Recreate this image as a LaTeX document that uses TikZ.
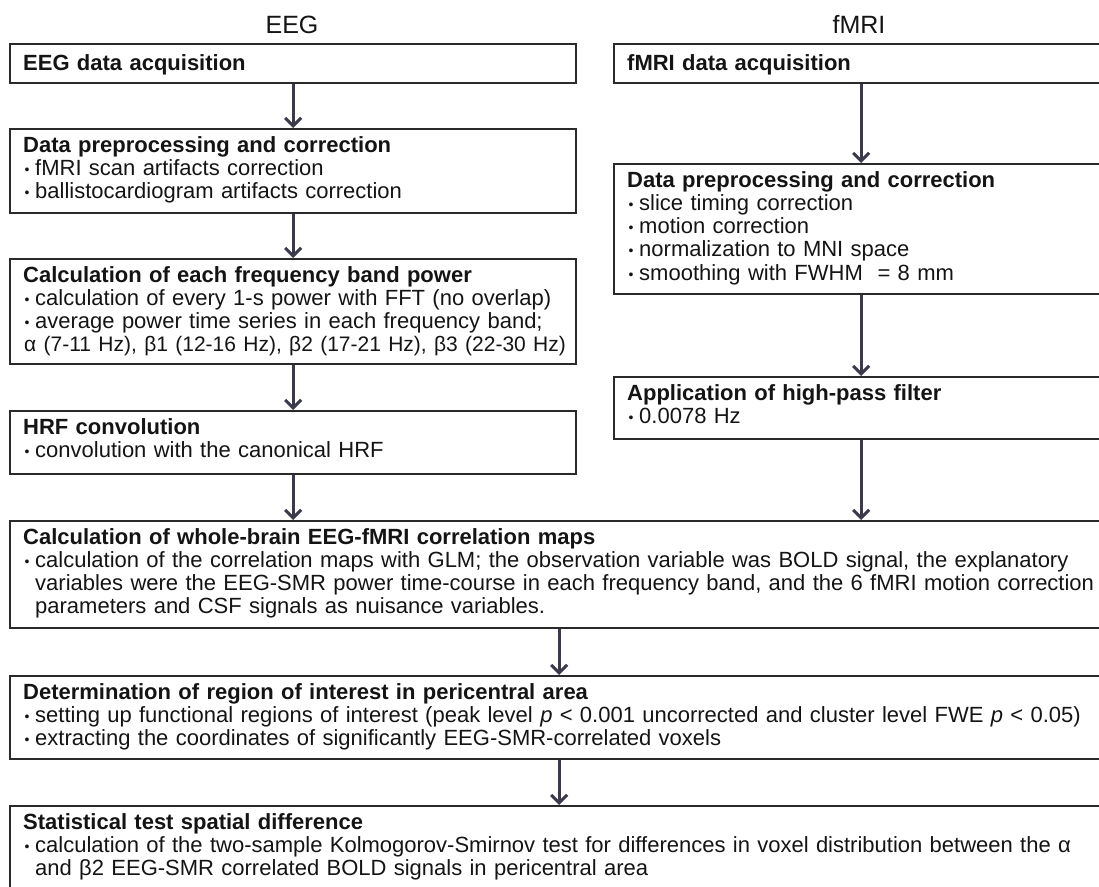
\documentclass[tikz,border=0pt]{standalone}
\usepackage{fontspec}
\setmainfont{Liberation Sans}
\usetikzlibrary{arrows.meta}
\definecolor{boxc}{HTML}{2A2A2A}
\definecolor{arrc}{HTML}{3A3A4C}
\definecolor{txtc}{HTML}{141414}
\newcommand\bu{\makebox[12pt][l]{\hspace{1.5pt}\raisebox{1.2pt}{\fontsize{14}{14}\selectfont •}}}
\newcommand\ind{\hspace*{12pt}}
\tikzset{
  box/.style={draw=boxc, line width=2.4pt, inner sep=0pt, rectangle, anchor=north west},
  txt/.style={anchor=base west, inner sep=0pt, text width=1090pt, align=left,
              font=\fontsize{22}{23.3}\selectfont, text=txtc},
  ttl/.style={anchor=base, inner sep=0pt, font=\fontsize{25}{25}\selectfont, text=txtc},
  arr/.style={draw=arrc, line width=3pt, -{Straight Barb[length=8pt,width=16pt]}}
}
\begin{document}
\begin{tikzpicture}[x=1pt,y=-1pt]
\useasboundingbox (0,0) rectangle (1099,886);
\clip (0,0) rectangle (1099,886);
% titles
\node[ttl] (teeg) at (292,33) {EEG};
\node[ttl] (tfmri) at (859,33) {fMRI};
% boxes
\node[box, minimum width=566pt, minimum height=39pt] (e1) at (9,43) {};
\node[box, minimum width=566pt, minimum height=84pt] (e2) at (9,128) {};
\node[box, minimum width=566pt, minimum height=105pt] (e3) at (9,258) {};
\node[box, minimum width=566pt, minimum height=63pt] (hrf) at (9,410) {};
\node[box, minimum width=494pt, minimum height=39pt] (f1) at (613,43) {};
\node[box, minimum width=494pt, minimum height=130pt] (f2) at (613,163) {};
\node[box, minimum width=494pt, minimum height=62pt] (f3) at (613,376) {};
\node[box, minimum width=1098pt, minimum height=107pt] (corr) at (9,520) {};
\node[box, minimum width=1098pt, minimum height=83pt] (roi) at (9,675) {};
\node[box, minimum width=1098pt, minimum height=84pt] (stat) at (9,805) {};
% texts
\node[txt] (e1t) at (23,70) {\textbf{EEG data acquisition}};
\node[txt] (e2t) at (23,152) {\textbf{Data preprocessing and correction}\\
\bu fMRI scan artifacts correction\\
\bu ballistocardiogram artifacts correction};
\node[txt] (e3t) at (23,282) {\textbf{Calculation of each frequency band power}\\
\bu calculation of every 1-s power with FFT (no overlap)\\
\bu average power time series in each frequency band;\\
{\fontsize{21}{23.3}\selectfont\hspace*{1pt}α (7-11 Hz), β1 (12-16 Hz), β2 (17-21 Hz), β3 (22-30 Hz)}};
\node[txt] (hrft) at (23,434) {\textbf{HRF convolution}\\
\bu convolution with the canonical HRF};
\node[txt] (f1t) at (627,70) {\textbf{fMRI data acquisition}};
\node[txt] (f2t) at (627,187) {\textbf{Data preprocessing and correction}\\
\bu slice timing correction\\
\bu motion correction\\
\bu normalization to MNI space\\
\bu smoothing with FWHM \ = 8 mm};
\node[txt] (f3t) at (627,400) {\textbf{Application of high-pass filter}\\
\bu 0.0078 Hz};
\node[txt] (corrt) at (23,544) {\textbf{Calculation of whole-brain EEG-fMRI correlation maps}\\
\bu calculation of the correlation maps with GLM; the observation variable was BOLD signal, the explanatory\\
\ind variables were the EEG-SMR power time-course in each frequency band, and the 6 fMRI motion correction\\
\ind parameters and CSF signals as nuisance variables.};
\node[txt] (roit) at (23,699) {\textbf{Determination of region of interest in pericentral area}\\
\bu setting up functional regions of interest (peak level \textit{p} < 0.001 uncorrected and cluster level FWE \textit{p} < 0.05)\\
\bu extracting the coordinates of significantly EEG-SMR-correlated voxels};
\node[txt] (statt) at (23,829) {\textbf{Statistical test spatial difference}\\
\bu calculation of the two-sample Kolmogorov-Smirnov test for differences in voxel distribution between the α\\
\ind and β2 EEG-SMR correlated BOLD signals in pericentral area};
% arrows
\draw[arr] (e1.south) -- (e2.north);
\draw[arr] (e2.south) -- (e3.north);
\draw[arr] (e3.south) -- (hrf.north);
\draw[arr] (hrf.south) -- (hrf.south |- corr.north);
\draw[arr] (f1.south) -- (f2.north);
\draw[arr] (f2.south) -- (f3.north);
\draw[arr] (f3.south) -- (f3.south |- corr.north);
\draw[arr] (corr.south) -- (roi.north);
\draw[arr] (roi.south) -- (stat.north);
\end{tikzpicture}
\end{document}
